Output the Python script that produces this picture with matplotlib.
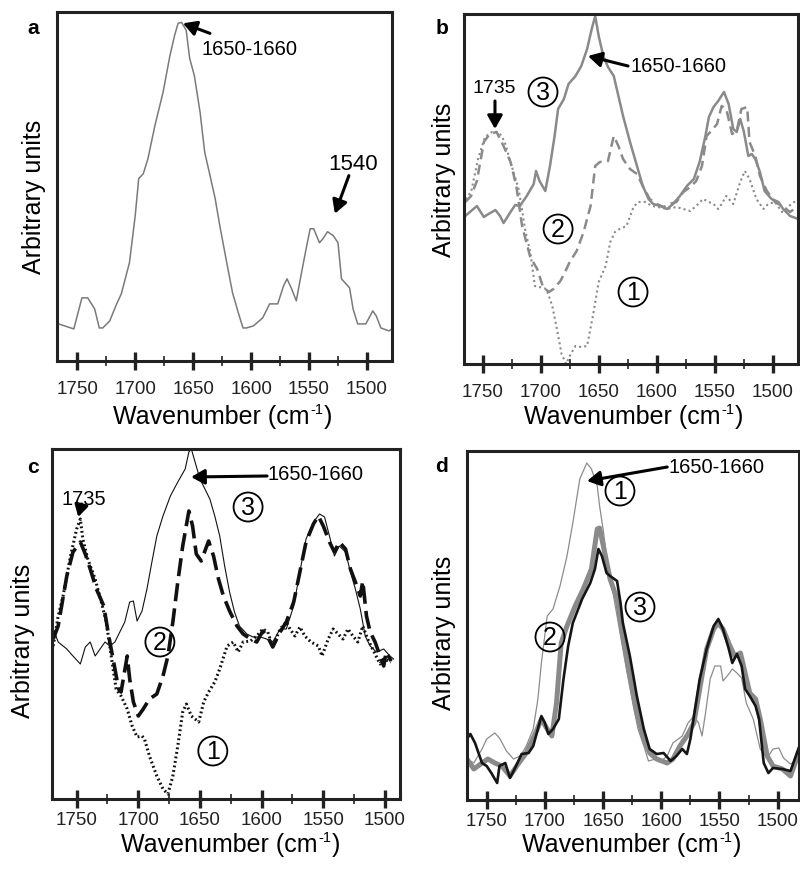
import matplotlib
matplotlib.use("Agg")
import matplotlib.pyplot as plt

plt.rcParams['font.family'] = ['Liberation Sans', 'DejaVu Sans']

# ---------------- data ----------------
# Panel a
a_wn = [1766, 1753, 1746, 1741, 1735, 1731, 1728, 1722, 1716, 1712, 1705, 1700, 1697, 1693, 1689, 1683, 1676, 1670, 1666, 1663,
        1660, 1656, 1653, 1649, 1644, 1640, 1636, 1631, 1627, 1621, 1616, 1611, 1607, 1604, 1598, 1590, 1584, 1577, 1572, 1569,
        1565, 1561, 1557, 1552, 1549, 1546, 1541, 1538, 1534, 1529, 1525, 1522, 1515, 1512, 1508, 1501, 1495, 1492, 1488, 1481, 1475]
a_val = [37, 32, 63, 63, 52, 33, 33, 40, 57, 67, 98, 145, 182, 187, 202, 235, 268, 305, 325, 337,
         338, 330, 302, 285, 248, 208, 188, 162, 135, 98, 68, 48, 33, 33, 35, 43, 57, 57, 75, 82,
         72, 60, 85, 115, 132, 132, 118, 122, 129, 125, 118, 82, 73, 52, 37, 37, 50, 45, 33, 30, 35]

# Panel b
b3_wn = [1765, 1761, 1755, 1749, 1745, 1739, 1735, 1732, 1726, 1722, 1718, 1712, 1706, 1704, 1701, 1696, 1692, 1688, 1685, 1680,
         1676, 1670, 1665, 1660, 1656, 1653, 1650, 1646, 1642, 1637, 1633, 1629, 1623, 1617, 1612, 1607, 1603, 1597, 1591, 1586,
         1580, 1574, 1568, 1563, 1558, 1555, 1551, 1547, 1542, 1538, 1534, 1531, 1528, 1525, 1521, 1518, 1515, 1511, 1507, 1501,
         1495, 1491, 1485, 1478]
b3_val = [148, 152, 158, 147, 150, 154, 148, 141, 152, 159, 158, 168, 180, 193, 183, 173, 198, 228, 255, 265,
          280, 288, 298, 315, 335, 348, 328, 308, 297, 288, 268, 248, 222, 198, 178, 165, 160, 158, 155, 160,
          168, 178, 185, 202, 228, 247, 257, 263, 272, 260, 235, 232, 245, 233, 208, 210, 205, 192, 173, 165,
          162, 155, 148, 145]
b2_wn = [1765, 1760, 1755, 1749, 1744, 1738, 1732, 1726, 1721, 1716, 1709, 1703, 1698, 1693, 1689, 1683, 1679, 1675, 1669, 1663,
         1657, 1653, 1649, 1642, 1637, 1633, 1629, 1623, 1617, 1612, 1606, 1600, 1594, 1589, 1583, 1577, 1571, 1566, 1561, 1557,
         1553, 1548, 1544, 1540, 1535, 1531, 1527, 1522, 1520, 1515, 1511, 1505, 1498, 1492, 1485, 1478]
b2_val = [162, 168, 183, 222, 230, 232, 218, 202, 178, 138, 107, 95, 77, 72, 75, 83, 92, 102, 113, 132,
          158, 198, 202, 203, 228, 218, 205, 195, 190, 178, 165, 160, 157, 160, 162, 172, 177, 183, 198, 228,
          233, 240, 258, 255, 230, 233, 255, 257, 222, 208, 188, 173, 162, 158, 152, 158]
b1_wn = [1765, 1760, 1754, 1748, 1742, 1736, 1731, 1725, 1719, 1713, 1709, 1705, 1701, 1695, 1690, 1686, 1682, 1678, 1675, 1670,
         1665, 1660, 1655, 1650, 1644, 1640, 1636, 1632, 1626, 1620, 1616, 1610, 1604, 1599, 1591, 1583, 1577, 1571, 1566, 1560,
         1555, 1551, 1547, 1544, 1540, 1534, 1528, 1524, 1520, 1514, 1508, 1504, 1498, 1492, 1486, 1478]
b1_val = [165, 172, 205, 227, 232, 232, 222, 198, 175, 132, 112, 78, 77, 75, 58, 35, 10, 0, 8, 18,
          17, 18, 48, 82, 98, 122, 132, 135, 138, 157, 162, 162, 158, 157, 155, 157, 155, 153, 158, 165,
          162, 160, 155, 160, 168, 160, 182, 193, 185, 165, 155, 160, 162, 152, 158, 165]

# Panel c
c3_wn = [1769, 1765, 1758, 1753, 1747, 1743, 1739, 1735, 1731, 1727, 1723, 1719, 1715, 1711, 1707, 1704, 1701, 1697, 1693, 1689,
         1685, 1680, 1674, 1668, 1662, 1659, 1657, 1654, 1650, 1646, 1642, 1638, 1634, 1630, 1626, 1622, 1618, 1612, 1607, 1601,
         1596, 1591, 1585, 1580, 1574, 1569, 1564, 1558, 1553, 1549, 1545, 1541, 1537, 1532, 1528, 1524, 1520, 1516, 1512, 1507,
         1501, 1496, 1493]
c3_val = [170, 157, 150, 143, 135, 152, 157, 143, 150, 157, 153, 157, 167, 177, 197, 198, 178, 188, 210, 237,
          263, 283, 303, 317, 330, 347, 350, 337, 320, 310, 300, 283, 263, 233, 207, 187, 173, 165, 162, 162,
          160, 157, 170, 170, 193, 227, 260, 277, 285, 282, 263, 243, 253, 247, 227, 210, 190, 163, 153, 147,
          150, 143, 140]
c2_wn = [1769, 1765, 1758, 1753, 1747, 1743, 1739, 1734, 1728, 1724, 1720, 1716, 1714, 1709, 1707, 1704, 1700, 1696, 1691, 1685,
         1680, 1676, 1672, 1668, 1664, 1659, 1656, 1653, 1649, 1643, 1639, 1635, 1631, 1626, 1620, 1615, 1609, 1604, 1599, 1595,
         1591, 1585, 1580, 1574, 1569, 1564, 1558, 1554, 1550, 1545, 1541, 1537, 1532, 1528, 1524, 1520, 1518, 1515, 1512, 1508,
         1504, 1501, 1499, 1495]
c2_val = [160, 173, 223, 247, 257, 245, 230, 210, 193, 163, 137, 110, 107, 143, 120, 97, 83, 90, 100, 105,
          123, 143, 177, 217, 253, 288, 273, 245, 238, 258, 243, 220, 203, 188, 173, 165, 160, 157, 168, 162,
          152, 167, 177, 197, 227, 257, 275, 283, 273, 257, 247, 257, 250, 230, 217, 203, 218, 183, 167, 157,
          143, 133, 147, 138]
c1_wn = [1769, 1765, 1761, 1755, 1750, 1747, 1745, 1741, 1735, 1730, 1726, 1722, 1718, 1714, 1709, 1705, 1701, 1697, 1695, 1691,
         1685, 1680, 1676, 1672, 1668, 1664, 1661, 1657, 1651, 1647, 1643, 1638, 1634, 1628, 1623, 1619, 1615, 1609, 1604, 1599,
         1595, 1591, 1585, 1580, 1577, 1573, 1569, 1565, 1560, 1554, 1551, 1546, 1542, 1538, 1534, 1530, 1526, 1522, 1518, 1514,
         1510, 1504, 1501, 1495]
c1_val = [153, 183, 203, 243, 270, 280, 260, 240, 220, 197, 177, 143, 110, 103, 90, 73, 62, 63, 60, 43,
          23, 10, 5, 23, 53, 87, 95, 83, 77, 97, 107, 117, 130, 153, 157, 147, 157, 158, 163, 170,
          167, 152, 170, 177, 170, 163, 172, 163, 157, 153, 143, 160, 170, 165, 160, 170, 163, 157, 173, 160,
          150, 135, 140, 137]

# Panel d
d1_wn = [1767, 1761, 1754, 1750, 1743, 1739, 1733, 1727, 1721, 1716, 1710, 1706, 1703, 1698, 1693, 1687, 1681, 1676, 1670, 1664,
         1660, 1655, 1653, 1650, 1647, 1641, 1635, 1630, 1624, 1620, 1615, 1611, 1605, 1600, 1595, 1590, 1582, 1577, 1572, 1568,
         1565, 1562, 1558, 1554, 1549, 1547, 1542, 1539, 1535, 1531, 1527, 1521, 1515, 1509, 1504, 1499, 1495, 1489, 1482]
d1_val = [41, 37, 51, 61, 67, 62, 49, 41, 44, 54, 71, 101, 137, 184, 191, 214, 244, 277, 321, 337,
          331, 314, 294, 271, 244, 204, 164, 131, 94, 71, 54, 39, 41, 39, 44, 57, 64, 77, 84, 77,
          64, 87, 121, 134, 134, 119, 126, 131, 127, 122, 97, 81, 51, 42, 51, 52, 42, 36, 41]
d2_wn = [1767, 1761, 1754, 1749, 1743, 1737, 1730, 1723, 1716, 1708, 1703, 1698, 1694, 1690, 1686, 1681, 1674, 1667, 1660, 1655,
         1653, 1648, 1644, 1638, 1633, 1627, 1621, 1615, 1610, 1604, 1595, 1590, 1584, 1578, 1572, 1567, 1561, 1555, 1551, 1547,
         1541, 1537, 1532, 1528, 1524, 1519, 1515, 1509, 1504, 1496, 1489, 1482]
d2_val = [41, 31, 37, 41, 37, 34, 24, 36, 47, 67, 81, 71, 64, 97, 157, 174, 194, 211, 231, 271,
          272, 244, 221, 201, 164, 124, 87, 61, 47, 41, 37, 41, 54, 64, 77, 111, 151, 171, 177, 171,
          154, 144, 147, 127, 107, 101, 81, 44, 34, 31, 24, 47]
d3_wn = [1767, 1764, 1760, 1754, 1750, 1746, 1741, 1739, 1734, 1730, 1726, 1720, 1714, 1710, 1706, 1703, 1700, 1697, 1693, 1688,
         1684, 1680, 1676, 1668, 1661, 1657, 1654, 1651, 1647, 1644, 1638, 1635, 1633, 1627, 1621, 1615, 1610, 1604, 1598, 1592,
         1587, 1582, 1578, 1575, 1571, 1567, 1561, 1555, 1551, 1547, 1542, 1539, 1535, 1531, 1528, 1524, 1519, 1516, 1512, 1508,
         1504, 1496, 1489, 1482]
d3_val = [61, 66, 57, 37, 34, 27, 17, 34, 37, 22, 31, 46, 47, 54, 71, 84, 77, 66, 71, 81,
          121, 154, 177, 201, 217, 231, 251, 244, 227, 224, 219, 197, 177, 144, 104, 71, 51, 46, 47, 39,
          44, 51, 46, 61, 91, 121, 151, 174, 181, 171, 151, 137, 146, 134, 111, 104, 94, 81, 37, 27,
          32, 31, 29, 52]

xticks = [1750, 1700, 1650, 1600, 1550, 1500]
xtick_labels = ['1750', '1700', '1650', '1600', '1550', '1500']
minor_xticks = [1725, 1675, 1625, 1575, 1525]
xlabel_parts = ('Wavenumber (cm', '-1', ')')
ylabel = 'Arbitrary units'

# ---------------- layout ----------------
W, H = 800, 870
fig = plt.figure(figsize=(W / 100, H / 100), dpi=100)


def add_ax(l, t, r, b, xlim, ylim, pad):
    ax = fig.add_axes([l / W, (H - b) / H, (r - l) / W, (b - t) / H])
    ax.set_xlim(*xlim)
    ax.set_ylim(*ylim)
    ax.set_yticks([])
    ax.set_xticks(xticks)
    ax.set_xticklabels(xtick_labels, fontsize=13.5)
    ax.set_xticks(minor_xticks, minor=True)
    ax.tick_params(axis='x', which='major', direction='inout', length=13, width=2.4, pad=pad, colors='#222222')
    ax.tick_params(axis='x', which='minor', direction='inout', length=7, width=1.2, colors='#222222')
    for s in ax.spines.values():
        s.set_linewidth(2.2)
        s.set_color('#222222')
    return ax


def circ(ax, x, y, s):
    ax.text(x, y, s, fontsize=18, ha='center', va='center',
            bbox=dict(boxstyle='circle,pad=0.1', fc='none', ec='black', lw=1.3))


def arrow(ax, tail, head, lw=2.2, hw=0.45, hl=0.8):
    ax.annotate('', xy=head, xytext=tail,
                arrowprops=dict(arrowstyle=f'-|>,head_width={hw},head_length={hl}', lw=lw, color='black',
                                shrinkA=0, shrinkB=0))


# Panel a
axa = add_ax(57, 13, 392, 362, (1767.5, 1478.4), (0, 348.3), 7)
axa.plot(a_wn, a_val, color='#7a7a7a', lw=1.1)
axa.text(1642.4, 312, '1650-1660', fontsize=14.5, ha='left', va='center')
arrow(axa, (1635.5, 327), (1658.8, 337))
axa.text(1512, 197, '1540', fontsize=16, ha='center', va='center')
arrow(axa, (1515.6, 185), (1527.7, 147))

# Panel b
axb = add_ax(464, 15, 798, 365, (1766.1, 1478.2), (0, 350), 7)
gray_b = '#8a8a8a'
axb.plot(b1_wn, b1_val, color=gray_b, lw=1.5, linestyle=(0, (1, 1.5)))
axb.plot(b2_wn, b2_val, color=gray_b, lw=1.8, linestyle=(0, (4, 2.2)))
axb.plot(b3_wn, b3_val, color=gray_b, lw=1.8)
axb.text(1740.3, 276, '1735', fontsize=14, ha='center', va='center')
arrow(axb, (1739.4, 263), (1739.4, 235))
circ(axb, 1698, 272, '3')
axb.text(1623, 298, '1650-1660', fontsize=14.5, ha='left', va='center')
arrow(axb, (1624.7, 298), (1659.2, 308))
circ(axb, 1685, 135, '2')
circ(axb, 1620.4, 72, '1')

# Panel c
axc = add_ax(52, 450, 400, 800, (1770, 1487.8), (0, 350), 2.5)
axc.plot(c1_wn, c1_val, color='#111111', lw=2.2, linestyle=(0, (0.6, 0.9)))
axc.plot(c2_wn, c2_val, color='#111111', lw=2.6, linestyle=(0, (5, 2)))
axc.plot(c3_wn, c3_val, color='#111111', lw=0.8)
axc.text(1744, 300, '1735', fontsize=14.5, ha='center', va='center')
arrow(axc, (1746, 295), (1748.7, 282), hw=0.4, hl=0.7)
axc.text(1595.6, 325, '1650-1660', fontsize=14.5, ha='left', va='center')
arrow(axc, (1595.6, 323), (1657.2, 322))
circ(axc, 1611, 292, '3')
circ(axc, 1682.5, 157, '2')
circ(axc, 1639.6, 48, '1')

# Panel d
axd = add_ax(467, 452, 799, 801, (1766.9, 1481.7), (0, 349), 2.5)
axd.plot(d2_wn, d2_val, color='#8a8a8a', lw=3.6, solid_joinstyle='round')
axd.plot(d1_wn, d1_val, color='#8c8c8c', lw=0.9)
axd.plot(d3_wn, d3_val, color='#151515', lw=1.9)
axd.text(1594.1, 333, '1650-1660', fontsize=14.5, ha='left', va='center')
arrow(axd, (1594.9, 333), (1663.8, 319))
circ(axd, 1635.5, 309, '1')
circ(axd, 1618.3, 193, '3')
circ(axd, 1695.6, 163, '2')


# axis labels and panel letters (figure pixel coords)
def ftext(x, y, s, **kw):
    return fig.text(x / W, 1 - y / H, s, **kw)


renderer = fig.canvas.get_renderer()


def xlabel_at(cx, base):
    main, sup, close = xlabel_parts
    t1 = ftext(0, base, main, fontsize=18, ha='left', va='baseline')
    t2 = ftext(0, base - 10, sup, fontsize=10.5, ha='left', va='baseline')
    t3 = ftext(0, base, close, fontsize=18, ha='left', va='baseline')
    w1 = t1.get_window_extent(renderer).width
    w2 = t2.get_window_extent(renderer).width
    w3 = t3.get_window_extent(renderer).width
    x0 = cx - (w1 + w2 + w3) / 2
    t1.set_x(x0 / W)
    t2.set_x((x0 + w1 + 0.5) / W)
    t3.set_x((x0 + w1 + w2 + 1) / W)


for (x, y) in [(34, 197), (444, 180), (23, 641), (444, 633)]:
    ftext(x, y, ylabel, rotation=90, fontsize=18, ha='center', va='center')
for (x, y) in [(222, 424), (633, 424), (230, 852), (631, 852)]:
    xlabel_at(x, y)
for (x, y, s) in [(33, 28, 'a'), (442, 28, 'b'), (33, 468, 'c'), (442, 467, 'd')]:
    ftext(x, y, s, fontsize=15, fontweight='bold', ha='center', va='center')

fig.savefig('out.png', dpi=100)
